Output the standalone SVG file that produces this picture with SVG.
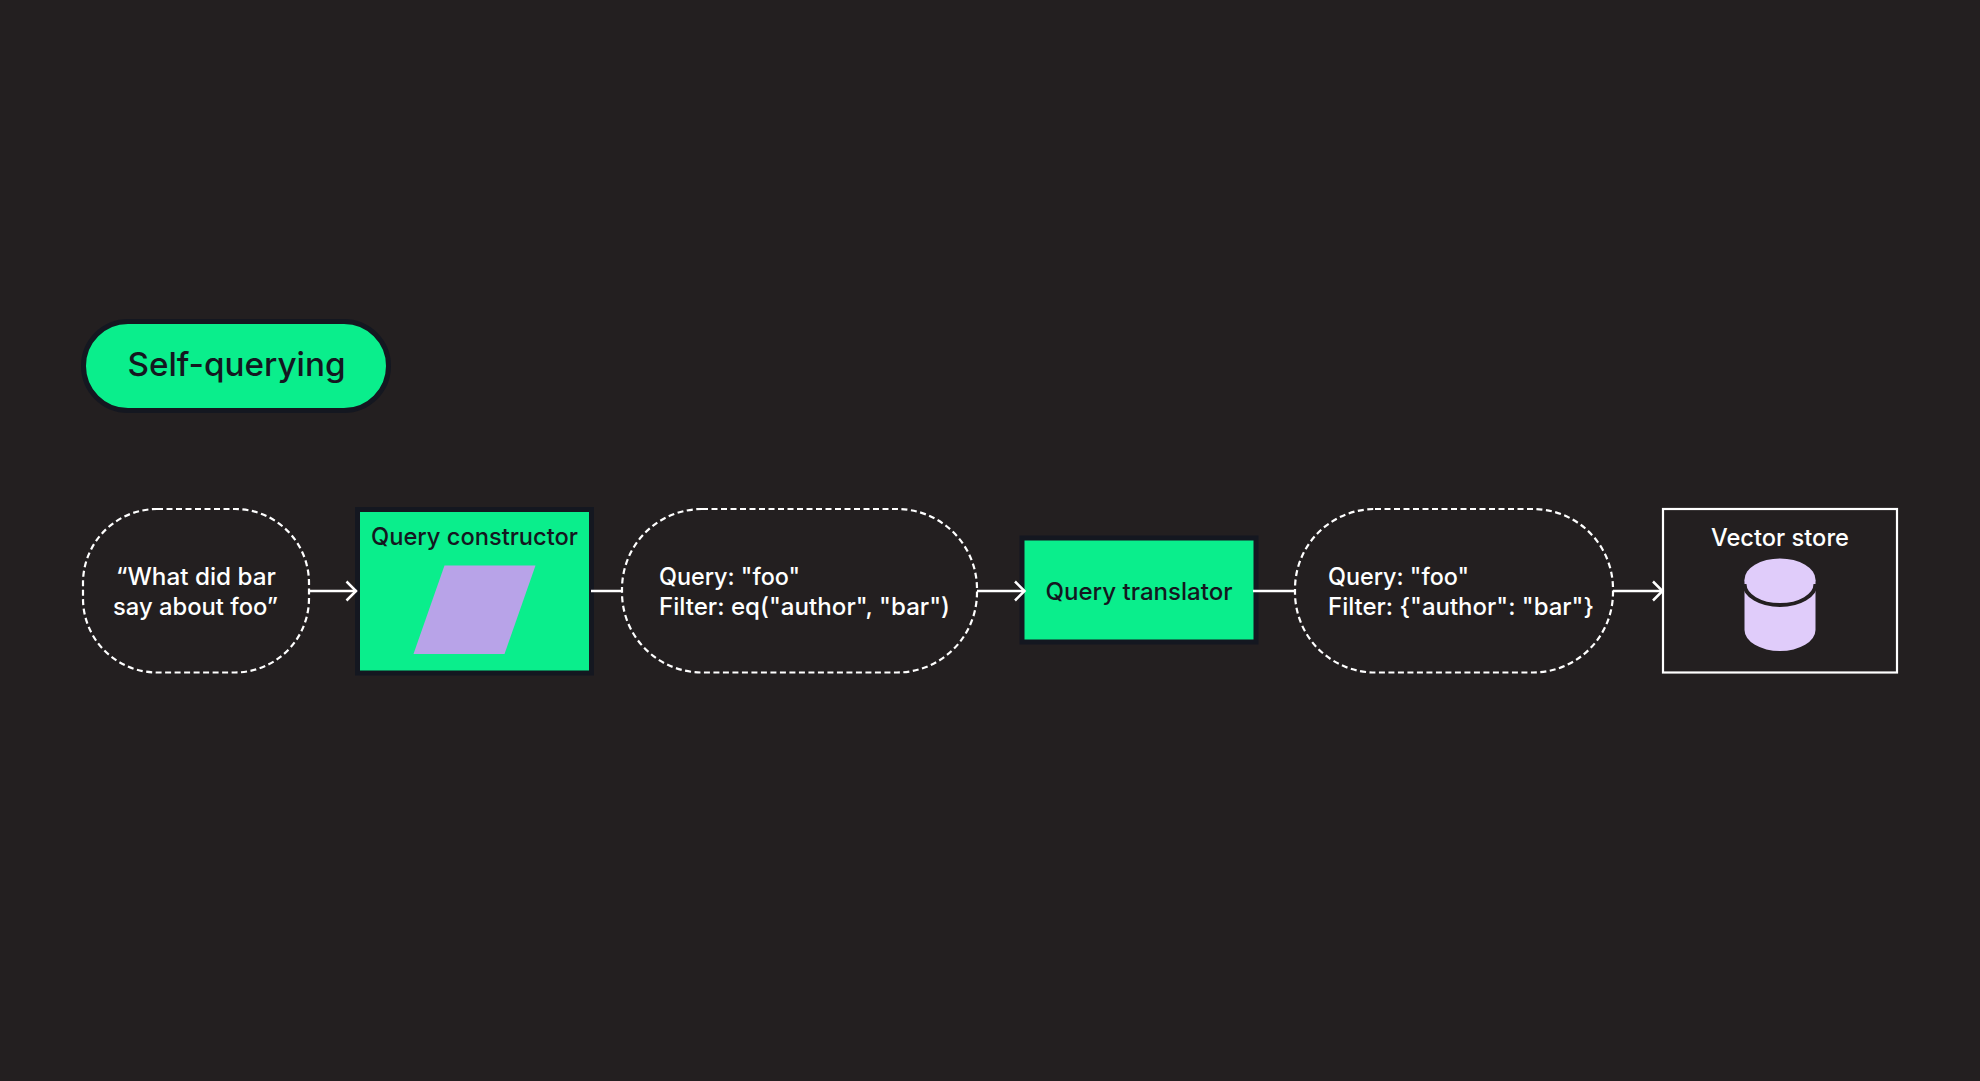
<svg xmlns="http://www.w3.org/2000/svg" width="1980" height="1081" viewBox="0 0 1980 1081">
<style>
text{font-family:"Inter","Roboto","Liberation Sans",sans-serif;font-size:24px;font-weight:450;fill:#fff}
.g{fill:#0aee8c;stroke:#141720;stroke-width:5}
.dash{fill:none;stroke:#fff;stroke-width:2.2;stroke-dasharray:6 3.5}
.c{fill:none;stroke:#fff;stroke-width:2.5}
.k{fill:#141720}
</style>
<defs><marker id="arr" markerUnits="userSpaceOnUse" markerWidth="16" markerHeight="24" refX="13" refY="12" orient="auto"><path d="M3 2.500 L12.500 12 L3 21.500" fill="none" stroke="#fff" stroke-width="2.500"/></marker></defs>
<rect width="1980" height="1081" fill="#231f20"/>
<g id="title"><rect class="g" x="83.5" y="321.5" width="305" height="89" rx="44.5"/><text class="k" x="236.500" y="376" text-anchor="middle" style="font-size:33px;font-weight:500" textLength="218" lengthAdjust="spacingAndGlyphs">Self-querying</text></g>
<g id="question"><rect class="dash" x="83" y="509" width="226" height="163.500" rx="74"/><text x="196" y="585" text-anchor="middle" textLength="160" lengthAdjust="spacingAndGlyphs">“What did bar</text><text x="195.500" y="615" text-anchor="middle" textLength="165" lengthAdjust="spacingAndGlyphs">say about foo”</text></g>
<g id="constructor"><rect class="g" x="357.500" y="509.500" width="234" height="163.500"/><text class="k" x="474.500" y="545" text-anchor="middle" textLength="207" lengthAdjust="spacingAndGlyphs">Query constructor</text><polygon points="444.500,565.500 535.500,565.500 504.500,654 413.500,654" fill="#b8a3e8"/></g>
<g id="structured"><rect class="dash" x="622" y="509" width="355" height="163.500" rx="80"/><text x="659" y="585" textLength="141" lengthAdjust="spacingAndGlyphs">Query: "foo"</text><text x="659" y="615" textLength="291" lengthAdjust="spacingAndGlyphs">Filter: eq("author", "bar")</text></g>
<g id="translator"><rect class="g" x="1022" y="538" width="234" height="104"/><text class="k" x="1139" y="600" text-anchor="middle" textLength="187" lengthAdjust="spacingAndGlyphs">Query translator</text></g>
<g id="translated"><rect class="dash" x="1295" y="509" width="318" height="163.500" rx="80"/><text x="1328" y="585" textLength="141" lengthAdjust="spacingAndGlyphs">Query: "foo"</text><text x="1328" y="615" textLength="266" lengthAdjust="spacingAndGlyphs">Filter: {"author": "bar"}</text></g>
<g id="store"><rect x="1663" y="509" width="234" height="163.500" fill="none" stroke="#fff" stroke-width="2.200"/><text x="1780" y="546" text-anchor="middle" textLength="138" lengthAdjust="spacingAndGlyphs">Vector store</text>
<path d="M1744.500 580V630A35.500 21 0 0 0 1815.500 630V580Z" fill="#e0ccfa"/><ellipse cx="1780" cy="579.500" rx="35.500" ry="21" fill="#e0ccfa"/><path d="M1744.500 584A35.500 21 0 0 0 1815.500 584" fill="none" stroke="#231f20" stroke-width="4"/></g>
<g id="connectors">
<path class="c" d="M309 591H356.500" marker-end="url(#arr)"/>
<path class="c" d="M591 591H622"/>
<path class="c" d="M977 591H1025" marker-end="url(#arr)"/>
<path class="c" d="M1253 591H1295"/>
<path class="c" d="M1613 591H1663" marker-end="url(#arr)"/>
</g>
</svg>
